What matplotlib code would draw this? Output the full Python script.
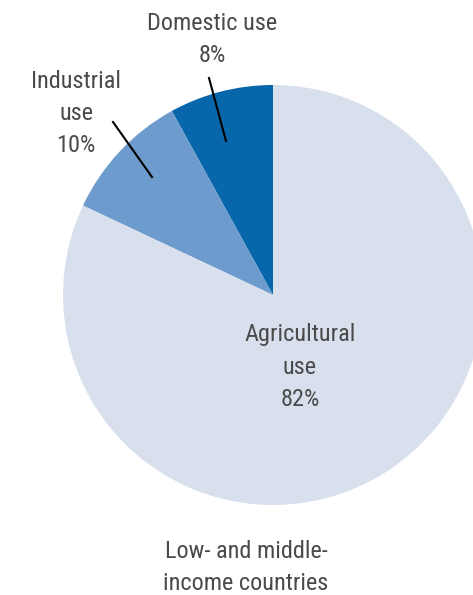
import matplotlib
matplotlib.use("Agg")
import matplotlib.pyplot as plt
from matplotlib import font_manager

labels = ["Domestic use\n8%", "Industrial\nuse\n10%", "Agricultural\nuse\n82%"]
shares = [8, 10, 82]
colors = ["#0767aa", "#6e9bcd", "#d8e0ee"]
footer = "Low- and middle-\nincome countries"

names = {f.name for f in font_manager.fontManager.ttflist}
fams = [n for n in ['Liberation Sans Narrow', 'DejaVu Sans Condensed',
                    'Roboto Condensed', 'Open Sans Condensed'] if n in names]
plt.rcParams['font.family'] = fams + ['DejaVu Sans']
plt.rcParams['font.stretch'] = 'condensed'

fig = plt.figure(figsize=(4.73, 5.95), dpi=100)
ax = fig.add_axes([0, 0, 1, 1])

# pie in pixel coords (y measured from bottom)
ax.pie(shares, colors=colors, startangle=90, counterclock=True,
       center=(273, 300), radius=210, frame=True,
       wedgeprops=dict(linewidth=0))
ax.set_xlim(0, 473)
ax.set_ylim(0, 595)
ax.set_aspect('equal')
ax.axis('off')

txt = dict(color="#4a4a4a", fontsize=17.5, ha='center', va='center',
           linespacing=1.5)
ax.text(212, 595 - 39, labels[0], **txt)
ax.text(76, 595 - 114, labels[1], **txt)
ax.text(300, 595 - 367, labels[2], **txt)
ax.text(246, 595 - 567, footer, **txt)

# leader lines
ax.plot([209, 226], [595 - 78, 595 - 141], color='black', lw=1.5)
ax.plot([113, 152], [595 - 122, 595 - 177], color='black', lw=1.5)

fig.savefig("out.png", dpi=100, facecolor='white')
